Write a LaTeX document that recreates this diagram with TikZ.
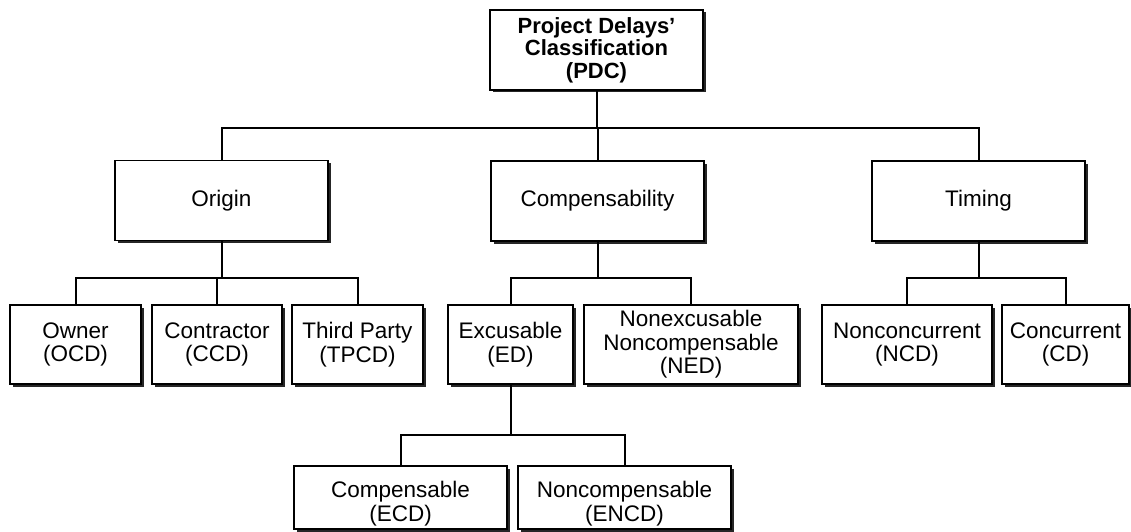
\documentclass[tikz,border=0pt]{standalone}
\usepackage{fontspec}
\setmainfont{Liberation Sans}
\usetikzlibrary{shadows}

\begin{document}
\begin{tikzpicture}[x=1pt, y=-1pt,
    txt/.style={font=\fontsize{22.5}{23.5}\selectfont, align=center},
    box/.style={txt, draw, line width=1.8pt, fill=white, inner sep=0pt,
      minimum height=79pt,
      drop shadow={shadow xshift=2.5pt, shadow yshift=-2.5pt, opacity=1, fill=black!85}},
    elbow/.style={to path={(\tikztostart.south) -- ++(0,#1) -| (\tikztotarget.north)}},
    elbow/.default=37]
  \useasboundingbox (0,0) rectangle (1131,532);

  % top
  \node[box, minimum width=213pt, minimum height=80pt,
        font=\bfseries\fontsize{22}{22.5}\selectfont] (pdc) at (596.5,50)
        {Project Delays'\\Classification\\(PDC)};

  % second level
  \node[box, minimum width=213pt, minimum height=80pt] (origin) at (221.5,200.5) {Origin};
  \node[box, minimum width=213pt, minimum height=80pt] (comp)   at (597.5,201) {Compensability};
  \node[box, minimum width=213pt, minimum height=80pt] (timing) at (978.5,201) {Timing};

  % third level
  \node[box, minimum width=131pt] (ocd)  at (75.5,344.5)  {Owner\\(OCD)};
  \node[box, minimum width=130pt] (ccd)  at (217,344.5)   {Contractor\\(CCD)};
  \node[box, minimum width=131pt] (tpcd) at (357.5,344.5) {Third Party\\(TPCD)};
  \node[box, minimum width=125pt] (ed)   at (510.5,344.5) {Excusable\\(ED)};
  \node[box, minimum width=214pt] (ned)  at (691,344.5)   {Nonexcusable\\Noncompensable\\(NED)};
  \node[box, minimum width=170pt] (ncd)  at (907,344.5)   {Nonconcurrent\\(NCD)};
  \node[box, minimum width=127pt] (cd)   at (1065.5,344.5) {Concurrent\\(CD)};

  % fourth level
  \node[box, minimum width=213pt, minimum height=63pt,
        label={[txt, yshift=-6pt]center:Compensable\\(ECD)}] (ecd) at (400.5,497.5) {};
  \node[box, minimum width=213pt, minimum height=63pt,
        label={[txt, yshift=-6pt]center:Noncompensable\\(ENCD)}] (encd) at (624.5,497.5) {};

  \path[line width=2pt]
        (pdc) edge[elbow] (origin)
        (pdc) edge[elbow] (comp)
        (pdc) edge[elbow] (timing)
        (origin) edge[elbow] (ocd)
        (origin) edge[elbow] (ccd)
        (origin) edge[elbow] (tpcd)
        (comp) edge[elbow=36] (ed)
        (comp) edge[elbow=36] (ned)
        (timing) edge[elbow=36] (ncd)
        (timing) edge[elbow=36] (cd)
        (ed) edge[elbow=50] (ecd)
        (ed) edge[elbow=50] (encd)
        ;
\end{tikzpicture}
\end{document}
